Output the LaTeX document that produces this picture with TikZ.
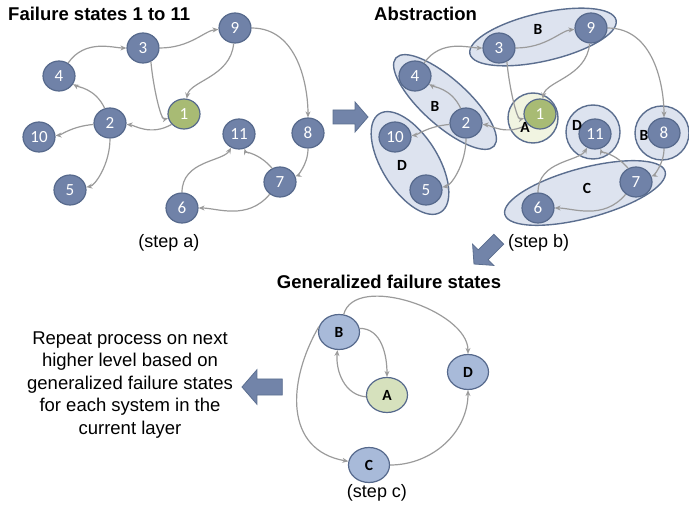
\documentclass[tikz,border=0pt]{standalone}
\usepackage{fontspec}
\setmainfont{Liberation Sans}
\newfontfamily\calib{Carlito}
\usetikzlibrary{shapes.geometric,arrows.meta}
\definecolor{nodeblue}{HTML}{7082A8}
\definecolor{nodeedge}{HTML}{56698C}
\definecolor{nodegreen}{HTML}{A8BB74}
\definecolor{groupfill}{HTML}{DDE3EF}
\definecolor{groupedge}{HTML}{5B6E8F}
\definecolor{afill}{HTML}{F1F4E1}
\definecolor{lblue}{HTML}{A8BAD9}
\definecolor{lgreen}{HTML}{D6E1BD}
\definecolor{edgegrey}{HTML}{9B9B9B}
\definecolor{arrowfill}{HTML}{7284A9}
\tikzset{
  fs/.style={ellipse, draw=nodeedge, fill=nodeblue, line width=1.2pt,
    minimum width=32pt, minimum height=30pt, inner sep=0pt, text=white,
    font=\calib\fontsize{17}{17}\selectfont},
  fsgreen/.style={fs, fill=nodegreen},
  edge/.style={draw=edgegrey, line width=1.2pt, -{Stealth[length=6pt,width=5pt]}},
  group/.style={draw=groupedge, fill=groupfill, line width=1.4pt},
  glabel/.style={font=\calib\bfseries\fontsize{15.5}{15.5}\selectfont, inner sep=0pt},
  gs/.style={ellipse, draw=nodeedge, fill=lblue, line width=1.2pt,
    minimum width=41pt, minimum height=35pt, inner sep=0pt,
    font=\calib\bfseries\fontsize{15.5}{15.5}\selectfont},
  gsgreen/.style={gs, fill=lgreen},
  title/.style={font=\bfseries\fontsize{18.5}{22}\selectfont, inner sep=0pt},
  caption/.style={font=\fontsize{18}{22}\selectfont, inner sep=0pt},
  barrow/.style={draw=groupedge, fill=arrowfill, line width=0.8pt, line join=miter}
}
\newcommand\blockarr[3]{\draw[barrow, shift={#1}, rotate=#2, #3]
  (0,0) -- (-13,-15) -- (-13,-7) -- (-35,-7) -- (-35,7) -- (-13,7) -- (-13,15) -- cycle;}
\newcommand\fgraph{%
  \node[fs] (n9) at (235,-28) {9};
  \node[fs] (n3) at (143,-48) {3};
  \node[fs] (n4) at (59,-76) {4};
  \node[fs] (n2) at (110,-123) {2};
  \node[fsgreen] (n1) at (184,-114) {1};
  \node[fs] (n10) at (39,-137) {10};
  \node[fs] (n5) at (70,-190) {5};
  \node[fs] (n11) at (239,-134) {11};
  \node[fs] (n8) at (308,-133) {8};
  \node[fs] (n7) at (280,-182) {7};
  \node[fs] (n6) at (182,-208) {6};
  \draw[edge] (n4.55) to[out=55,in=180] (n3);
  \draw[edge] (n3) to[out=0,in=185] (n9);
  \draw[edge] (n3.-60) to[out=-85,in=195] (n1);
  \draw[edge] (n9) to[out=-95,in=80] (n1);
  \draw[edge] (n9) to[out=0,in=90] (n8);
  \draw[edge] (n1.-140) to[out=-150,in=-5] (n2);
  \draw[edge] (n2.110) to[out=115,in=-30] (n4);
  \draw[edge] (n2) to[out=185,in=5] (n10);
  \draw[edge] (n2) to[out=-90,in=10] (n5);
  \draw[edge] (n8) to[out=-90,in=20] (n7);
  \draw[edge] (n7.120) to[out=130,in=-70] (n11);
  \draw[edge] (n7.-130) to[out=-130,in=0] (n6);
  \draw[edge] (n6) to[out=90,in=-120] (n11);
}
\begin{document}
\begin{tikzpicture}[x=1pt,y=1pt]
\useasboundingbox (0,0) rectangle (689,-513);
% step a
\node[title, anchor=west] (ta) at (8,-14) {Failure states 1 to 11};
\begin{scope}[name prefix=a]
  \fgraph
\end{scope}
\node[caption] (sa) at (169,-243) {(step a)};
\blockarr{(368,-117)}{0}{}
% step b
\node[title, anchor=west] (tb) at (374,-14) {Abstraction};
\draw[group, rotate around={13:(543,-37)}] (543,-37) ellipse [x radius=75, y radius=24];
\draw[group, rotate around={-42:(445,-102)}] (445,-102) ellipse [x radius=66, y radius=23];
\draw[group, rotate around={-58:(410,-163)}] (410,-163) ellipse [x radius=58, y radius=28];
\draw[group, rotate around={15:(585,-193)}] (585,-193) ellipse [x radius=83, y radius=25];
\draw[group, fill=afill] (533,-118) circle [radius=25];
\draw[group] (593,-132) circle [radius=27];
\draw[group] (662,-133) circle [radius=27];
\begin{scope}[xshift=356pt, name prefix=b]
  \fgraph
\end{scope}
\node[glabel] (lb1) at (538,-29) {B};
\node[glabel] (lb2) at (435,-106) {B};
\node[glabel] (ld1) at (402,-165) {D};
\node[glabel] (la) at (525,-127) {A};
\node[glabel] (ld2) at (577,-125) {D};
\node[glabel] (lb3) at (644,-135) {B};
\node[glabel] (lc) at (587,-188) {C};
\blockarr{(474,-264)}{225}{}
\node[caption, anchor=west] (sb) at (508,-243) {(step b)};
% step c
\node[title] (tc) at (389,-282) {Generalized failure states};
\node[gs] (cB) at (339,-332) {B};
\node[gsgreen] (cA) at (387,-395) {A};
\node[gs] (cD) at (468,-372) {D};
\node[gs] (cC) at (369,-465) {C};
\draw[edge] (cB) to[out=75,in=90,looseness=0.85] (cD);
\draw[edge] (cB.10) to[out=0,in=90] (cA);
\draw[edge] (cA.185) to[out=175,in=-95] (cB);
\draw[edge] (cB.165) to[out=-120,in=170,looseness=1.2] (cC);
\draw[edge] (cC) to[out=0,in=-90] (cD);
\node[caption] (sc) at (377,-493) {(step c)};
\node[caption, font=\fontsize{18.5}{22.5}\selectfont, align=center] (rep) at (130,-385)
  {Repeat process on next\\higher level based on\\generalized failure states\\for each system in the\\current layer};
\blockarr{(242,-387)}{180}{scale=1.15}
\end{tikzpicture}
\end{document}
